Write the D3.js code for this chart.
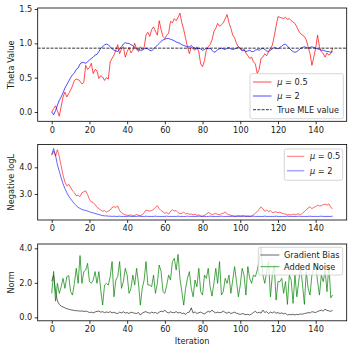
<!DOCTYPE html>
<html><head><meta charset="utf-8">
<script src="https://cdn.jsdelivr.net/npm/d3@7"></script>
<style>body{margin:0;background:#fff}svg{display:block}text{font-family:"DejaVu Sans",sans-serif}</style>
</head><body><svg id="c" width="354" height="350"></svg>
<script>
// ---------- DATA ----------
const iterations = d3.range(150);
const xTickValues = [0, 20, 40, 60, 80, 100, 120, 140];

const thetaMu05 = [
 0.00, 0.05, 0.09, 0.02, -0.06, 0.08, 0.22, 0.29, 0.22, 0.27,
 0.32, 0.38, 0.46, 0.48, 0.47, 0.45, 0.41, 0.43, 0.68, 0.62,
 0.65, 0.71, 0.56, 0.62, 0.60, 0.49, 0.53, 0.51, 0.46, 0.50,
 0.48, 0.73, 0.78, 0.83, 0.90, 0.98, 0.85, 0.92, 0.95, 0.80,
 0.88, 0.94, 0.86, 0.90, 1.00, 0.92, 0.88, 0.95, 0.91, 0.94,
 1.12, 1.16, 1.10, 1.20, 1.24, 1.18, 1.12, 1.33, 1.20, 1.10,
 1.07, 1.12, 1.15, 1.32, 1.30, 1.36, 1.33, 1.38, 1.44, 1.30,
 1.20, 1.07, 0.95, 0.85, 0.95, 0.92, 0.90, 0.95, 0.88, 0.70,
 0.66, 0.75, 0.90, 0.95, 0.98, 1.05, 1.17, 1.22, 1.29, 1.25,
 1.27, 1.30, 1.36, 1.42, 1.30, 1.22, 1.12, 1.08, 1.00, 0.95,
 0.93, 0.90, 0.92, 0.86, 0.82, 0.78, 0.80, 0.73, 0.70, 0.56,
 0.62, 0.78, 0.80, 0.85, 0.82, 0.88, 0.93, 0.97, 1.10, 1.25,
 1.39, 1.38, 1.37, 1.36, 1.38, 1.35, 1.36, 1.33, 1.31, 1.29,
 1.24, 1.18, 1.14, 1.12, 1.10, 1.05, 0.95, 0.85, 0.68, 0.80,
 0.93, 1.12, 0.95, 0.88, 0.85, 0.80, 0.86, 0.83, 0.85, 0.93];

const thetaMu2 = [
 0.00, -0.04, 0.02, 0.10, 0.17, 0.22, 0.28, 0.35, 0.40, 0.45,
 0.50, 0.54, 0.57, 0.62, 0.64, 0.70, 0.72, 0.72, 0.71, 0.73,
 0.76, 0.78, 0.80, 0.83, 0.84, 0.88, 0.93, 0.95, 0.98, 0.99,
 0.98, 0.95, 0.92, 0.90, 0.89, 0.88, 0.92, 0.95, 0.99, 1.01,
 1.00, 1.00, 0.98, 0.97, 0.94, 0.92, 0.91, 0.90, 0.90, 0.92,
 0.93, 0.92, 0.90, 0.89, 0.92, 0.95, 0.97, 1.00, 1.03, 1.05,
 1.06, 1.07, 1.07, 1.06, 1.05, 1.04, 1.02, 1.01, 1.00, 0.98,
 0.97, 0.96, 0.95, 0.95, 0.97, 0.94, 0.93, 0.92, 0.93, 0.92,
 0.90, 0.91, 0.93, 0.92, 0.93, 0.90, 0.87, 0.88, 0.91, 0.92,
 0.93, 0.92, 0.91, 0.93, 0.94, 0.92, 0.91, 0.92, 0.93, 0.95,
 0.92, 0.89, 0.90, 0.88, 0.89, 0.90, 0.88, 0.88, 0.90, 0.91,
 0.90, 0.92, 0.93, 0.91, 0.89, 0.88, 0.90, 0.92, 0.94, 0.93,
 0.92, 0.94, 0.96, 0.98, 0.99, 0.96, 0.93, 0.90, 0.88, 0.87,
 0.88, 0.90, 0.93, 0.94, 0.95, 0.94, 0.93, 0.94, 0.95, 0.94,
 0.93, 0.92, 0.91, 0.90, 0.90, 0.89, 0.88, 0.88, 0.87, 0.88];

const trueMLE = 0.93;

const nllMu05 = [
 4.45, 4.60, 4.42, 4.66, 4.40, 4.05, 3.70, 3.45, 3.30, 3.37,
 3.25, 3.12, 3.05, 2.93, 2.96, 2.90, 3.05, 3.08, 3.12, 2.98,
 2.80, 2.70, 2.68, 2.60, 2.50, 2.45, 2.40, 2.35, 2.38, 2.32,
 2.36, 2.40, 2.50, 2.52, 2.50, 2.55, 2.38, 2.30, 2.25, 2.22,
 2.20, 2.20, 2.22, 2.18, 2.20, 2.23, 2.20, 2.19, 2.22, 2.30,
 2.40, 2.38, 2.36, 2.38, 2.42, 2.50, 2.56, 2.45, 2.38, 2.33,
 2.28, 2.30, 2.25, 2.35, 2.41, 2.36, 2.38, 2.30, 2.26, 2.28,
 2.32, 2.25, 2.28, 2.24, 2.25, 2.22, 2.24, 2.20, 2.22, 2.18,
 2.17, 2.20, 2.25, 2.30, 2.28, 2.22, 2.25, 2.27, 2.24, 2.22,
 2.26, 2.28, 2.33, 2.25, 2.22, 2.20, 2.18, 2.17, 2.18, 2.20,
 2.18, 2.19, 2.18, 2.17, 2.18, 2.17, 2.18, 2.22, 2.28, 2.35,
 2.42, 2.52, 2.45, 2.35, 2.40, 2.34, 2.38, 2.30, 2.32, 2.33,
 2.30, 2.32, 2.28, 2.26, 2.25, 2.22, 2.23, 2.21, 2.25, 2.22,
 2.24, 2.26, 2.22, 2.28, 2.34, 2.40, 2.48, 2.52, 2.45, 2.50,
 2.53, 2.58, 2.55, 2.56, 2.60, 2.62, 2.58, 2.63, 2.50, 2.45];

const nllMu2 = [
 4.48, 4.70, 4.45, 4.10, 3.85, 3.60, 3.38, 3.20, 3.05, 2.92,
 2.82, 2.73, 2.64, 2.56, 2.50, 2.46, 2.42, 2.40, 2.38, 2.36,
 2.33, 2.31, 2.29, 2.27, 2.25, 2.23, 2.21, 2.19, 2.18, 2.18,
 2.17, 2.17, 2.16, 2.17, 2.16, 2.16, 2.17, 2.16, 2.16, 2.16,
 2.16, 2.17, 2.16, 2.16, 2.16, 2.16, 2.17, 2.16, 2.16, 2.16,
 2.17, 2.16, 2.16, 2.16, 2.16, 2.17, 2.16, 2.16, 2.16, 2.16,
 2.16, 2.17, 2.16, 2.16, 2.16, 2.16, 2.16, 2.17, 2.16, 2.16,
 2.16, 2.16, 2.17, 2.16, 2.16, 2.16, 2.16, 2.16, 2.17, 2.16,
 2.16, 2.16, 2.16, 2.16, 2.17, 2.16, 2.16, 2.16, 2.16, 2.16,
 2.17, 2.16, 2.16, 2.16, 2.16, 2.16, 2.17, 2.16, 2.16, 2.16,
 2.16, 2.16, 2.17, 2.16, 2.16, 2.16, 2.16, 2.17, 2.16, 2.16,
 2.16, 2.16, 2.16, 2.17, 2.16, 2.16, 2.16, 2.16, 2.16, 2.17,
 2.16, 2.16, 2.16, 2.16, 2.16, 2.17, 2.16, 2.16, 2.16, 2.16,
 2.16, 2.17, 2.16, 2.16, 2.16, 2.16, 2.16, 2.17, 2.16, 2.16,
 2.16, 2.16, 2.16, 2.17, 2.16, 2.16, 2.16, 2.16, 2.16, 2.17];

const gradientBias = [
 2.10, 2.45, 1.50, 0.95, 0.75, 0.65, 0.60, 0.55, 0.50, 0.47,
 0.44, 0.42, 0.40, 0.38, 0.38, 0.36, 0.37, 0.34, 0.36, 0.33,
 0.28, 0.30, 0.26, 0.31, 0.35, 0.36, 0.30, 0.33, 0.27, 0.31,
 0.28, 0.33, 0.26, 0.30, 0.24, 0.22, 0.30, 0.26, 0.32, 0.25,
 0.28, 0.22, 0.30, 0.27, 0.24, 0.22, 0.28, 0.13, 0.25, 0.30,
 0.33, 0.27, 0.24, 0.30, 0.26, 0.28, 0.22, 0.30, 0.36, 0.32,
 0.42, 0.30, 0.26, 0.32, 0.28, 0.27, 0.33, 0.25, 0.30, 0.22,
 0.24, 0.18, 0.28, 0.30, 0.55, 0.25, 0.32, 0.22, 0.27, 0.30,
 0.24, 0.20, 0.28, 0.35, 0.30, 0.42, 0.32, 0.26, 0.30, 0.27,
 0.29, 0.36, 0.28, 0.24, 0.31, 0.22, 0.26, 0.30, 0.24, 0.20,
 0.17, 0.22, 0.19, 0.15, 0.18, 0.13, 0.20, 0.28, 0.36, 0.25,
 0.30, 0.24, 0.42, 0.28, 0.33, 0.22, 0.30, 0.26, 0.32, 0.24,
 0.28, 0.22, 0.26, 0.20, 0.24, 0.13, 0.17, 0.15, 0.18, 0.14,
 0.17, 0.16, 0.20, 0.18, 0.22, 0.24, 0.28, 0.25, 0.33, 0.30,
 0.28, 0.34, 0.38, 0.42, 0.36, 0.48, 0.40, 0.38, 0.34, 0.42];

const addedNoise = [
 1.39, 2.66, 0.94, 1.97, 1.39, 1.78, 2.26, 1.68, 2.36, 2.42,
 1.49, 1.29, 1.97, 2.84, 1.97, 3.58, 1.97, 2.65, 2.74, 3.13,
 2.07, 1.97, 2.16, 2.65, 1.97, 2.65, 1.58, 0.71, 1.87, 1.97,
 1.87, 2.36, 3.23, 1.19, 2.16, 2.36, 3.23, 1.68, 2.07, 2.84,
 2.45, 1.39, 1.68, 2.45, 1.87, 2.84, 1.97, 0.71, 1.68, 2.16,
 3.23, 1.87, 1.87, 1.78, 2.45, 1.39, 1.97, 3.03, 2.65, 1.49,
 1.39, 1.87, 2.45, 2.16, 3.23, 3.42, 2.74, 3.65, 2.26, 1.49,
 0.71, 1.68, 2.26, 2.65, 1.68, 1.19, 2.16, 1.78, 2.84, 1.49,
 1.29, 2.45, 2.26, 2.84, 1.78, 1.23, 1.97, 2.84, 1.97, 3.23,
 1.29, 1.49, 2.26, 1.97, 2.45, 1.39, 2.16, 2.94, 2.07, 1.19,
 1.87, 2.84, 2.45, 1.29, 2.94, 2.26, 1.97, 2.45, 2.36, 2.74,
 3.23, 4.04, 2.45, 1.97, 2.65, 3.23, 1.19, 2.45, 3.03, 1.00,
 2.07, 2.07, 2.26, 1.39, 2.07, 0.75, 2.45, 2.16, 0.81, 2.45,
 1.19, 2.07, 2.94, 1.91, 0.75, 2.65, 1.68, 1.29, 2.45, 2.84,
 3.13, 2.07, 1.29, 2.45, 2.07, 2.74, 1.49, 3.03, 1.13, 1.30];

const thetaTicks = [0.0, 0.5, 1.0, 1.5];
const nllTicks = [3.0, 4.0];
const normTicks = [0.0, 2.0, 4.0];

// ---------- DRAW ----------
const svg = d3.select("#c");
const FS = 8.2, TXT = "#1a1a1a";
const L = 37.7, R = 346.7;
const x = d3.scaleLinear().domain([-7.45, 156.45]).range([L, R]);

function addLegend(box, entries) {
  const g = svg.append("g");
  g.append("rect").attr("x", box.x0).attr("y", box.y0)
    .attr("width", box.x1 - box.x0).attr("height", box.y1 - box.y0)
    .attr("rx", 2).attr("fill", "#fff").attr("fill-opacity", 0.8)
    .attr("stroke", "#cccccc").attr("stroke-width", 0.8);
  entries.forEach((e, k) => {
    const yy = box.rows[k];
    g.append("line").attr("x1", box.h0).attr("x2", box.h1).attr("y1", yy).attr("y2", yy)
      .attr("stroke", e.color).attr("stroke-opacity", e.opacity).attr("stroke-width", e.width)
      .attr("stroke-dasharray", e.dash || null);
    const t = g.append("text").attr("x", box.tx).attr("y", yy).attr("dy", "0.35em")
      .attr("font-size", FS).attr("fill", TXT);
    if (e.mu) {
      t.append("tspan").attr("font-style", "italic").text("μ");
      t.append("tspan").text(" = " + e.mu);
    } else t.text(e.label);
  });
}

function panel(p) {
  const y = d3.scaleLinear().domain(p.ydom).range([p.bottom, p.top]);
  const cid = "clip" + Math.round(p.top);
  svg.append("clipPath").attr("id", cid).append("rect")
    .attr("x", L).attr("y", p.top).attr("width", R - L).attr("height", p.bottom - p.top);
  const g = svg.append("g").attr("clip-path", `url(#${cid})`);
  p.series.forEach(s => {
    const line = d3.line().x((d, i) => x(iterations[i])).y(d => y(d));
    g.append("path").datum(s.values).attr("d", line).attr("fill", "none")
      .attr("stroke", s.color).attr("stroke-opacity", s.opacity)
      .attr("stroke-width", s.width).attr("stroke-linejoin", "round");
  });
  if (p.hline !== undefined) {
    g.append("line").attr("x1", L).attr("x2", R).attr("y1", y(p.hline)).attr("y2", y(p.hline))
      .attr("stroke", "#000").attr("stroke-width", 0.8).attr("stroke-dasharray", "3,1.3");
  }
  // axes
  const xa = svg.append("g").attr("transform", `translate(0,${p.bottom})`)
    .call(d3.axisBottom(x).tickValues(xTickValues).tickFormat(d3.format("d")).tickSize(3).tickPadding(2.5));
  const ya = svg.append("g").attr("transform", `translate(${L},0)`)
    .call(d3.axisLeft(y).tickValues(p.yticks).tickFormat(d3.format(".1f")).tickSize(3).tickPadding(2.5));
  [xa, ya].forEach(a => {
    a.select(".domain").remove();
    a.selectAll("line").attr("stroke", "#000").attr("stroke-width", 0.8);
    a.selectAll("text").attr("font-size", FS).attr("fill", TXT).attr("font-family", "DejaVu Sans");
  });
  svg.append("rect").attr("x", L).attr("y", p.top).attr("width", R - L).attr("height", p.bottom - p.top)
    .attr("fill", "none").attr("stroke", "#000").attr("stroke-width", 0.8);
  svg.append("text").attr("transform", `translate(10.7,${(p.top + p.bottom) / 2}) rotate(-90)`)
    .attr("text-anchor", "middle").attr("dy", "0.35em").attr("font-size", FS).attr("fill", TXT)
    .text(p.ylabel);
  addLegend(p.legendBox, p.legend);
}

panel({
  top: 8, bottom: 121.3, ydom: [-0.135, 1.515], yticks: thetaTicks, ylabel: "Theta Value",
  series: [
    {values: thetaMu05, color: "#ff0000", opacity: 0.7, width: 1},
    {values: thetaMu2, color: "#0000ff", opacity: 0.7, width: 1}
  ],
  hline: trueMLE,
  legendBox: {x0: 250, x1: 343.3, y0: 73.7, y1: 118.7, h0: 253, h1: 271.5, tx: 277.3, rows: [82, 96, 109.7]},
  legend: [
    {mu: "0.5", color: "#ff0000", opacity: 0.7, width: 1},
    {mu: "2", color: "#0000ff", opacity: 0.7, width: 1},
    {label: "True MLE value", color: "#000", opacity: 1, width: 0.8, dash: "3,1.3"}
  ]
});

panel({
  top: 144.5, bottom: 220, ydom: [2.026, 4.854], yticks: nllTicks, ylabel: "Negative logL",
  series: [
    {values: nllMu05, color: "#ff0000", opacity: 0.6, width: 1},
    {values: nllMu2, color: "#0000ff", opacity: 0.6, width: 1}
  ],
  legendBox: {x0: 284.3, x1: 342.7, y0: 149, y1: 180.3, h0: 287, h1: 304.3, tx: 310, rows: [156.3, 170.7]},
  legend: [
    {mu: "0.5", color: "#ff0000", opacity: 0.55, width: 1},
    {mu: "2", color: "#0000ff", opacity: 0.35, width: 1.5}
  ]
});

panel({
  top: 244, bottom: 320.8, ydom: [-0.2, 4.25], yticks: normTicks, ylabel: "Norm",
  series: [
    {values: gradientBias, color: "#000000", opacity: 0.6, width: 1},
    {values: addedNoise, color: "#008000", opacity: 0.7, width: 1}
  ],
  legendBox: {x0: 258.3, x1: 342.7, y0: 247.3, y1: 275, h0: 260.5, h1: 279.3, tx: 284, rows: [255, 266.7]},
  legend: [
    {label: "Gradient Bias", color: "#000000", opacity: 0.6, width: 1},
    {label: "Added Noise", color: "#008000", opacity: 0.7, width: 1}
  ]
});

svg.append("text").attr("x", (L + R) / 2).attr("y", 340.7).attr("dy", "0.35em")
  .attr("text-anchor", "middle").attr("font-size", FS).attr("fill", TXT).text("Iteration");
</script>
</body></html>
